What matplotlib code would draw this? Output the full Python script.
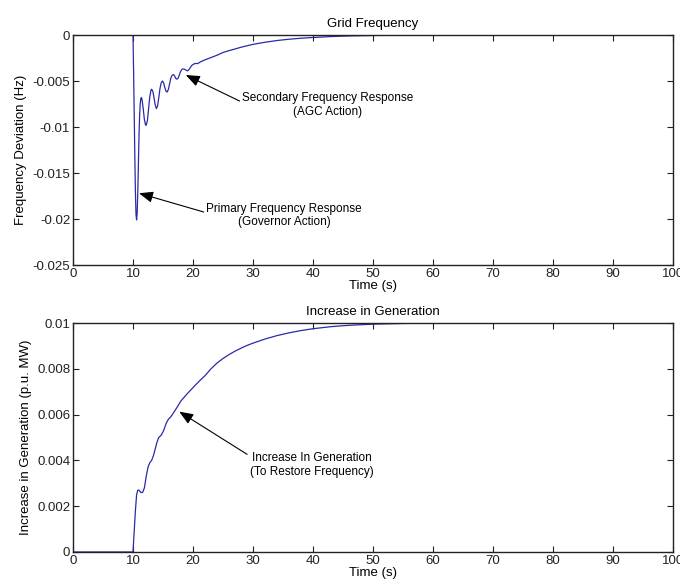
import matplotlib
matplotlib.use("Agg")
import matplotlib.pyplot as plt

plt.rcParams['font.family'] = ['Liberation Sans', 'DejaVu Sans']

# ---- data: grid frequency deviation (Hz) ----
t_freq = [0, 10.0, 10.1, 10.2, 10.3, 10.4, 10.5, 10.6, 10.7, 10.8, 10.9, 11.0, 11.1, 11.2,
          11.3, 11.4, 11.5, 11.7, 11.9, 12.1, 12.2, 12.4, 12.6, 12.8, 13.0, 13.1, 13.3,
          13.5, 13.7, 13.9, 14.1, 14.3, 14.5, 14.7, 14.9, 15.1, 15.3, 15.5, 15.7, 15.9,
          16.1, 16.3, 16.5, 16.7, 16.9, 17.1, 17.3, 17.5, 17.7, 17.9, 18.2, 18.5, 18.8,
          19.1, 19.4, 19.8, 20.3, 20.8, 21.3, 22.0, 23.0, 24.0, 25.0, 26.0, 27.0, 28.0,
          29.0, 30.0, 31.0, 32.0, 34.0, 36.0, 38.0, 40.0, 43.0, 46.0, 50.0, 55.0, 60.0,
          100.0]
freq_dev = [0, 0, -0.0040, -0.0085, -0.0130, -0.0170, -0.0195, -0.0201, -0.0193, -0.0170,
            -0.0140, -0.0110, -0.0088, -0.0075, -0.0069, -0.0068, -0.0070, -0.0080, -0.0092,
            -0.0098, -0.0098, -0.0093, -0.0080, -0.0067, -0.0060, -0.0059, -0.0061, -0.0068,
            -0.0076, -0.0080, -0.0077, -0.0068, -0.0058, -0.0052, -0.0050, -0.0052, -0.0057,
            -0.0061, -0.0062, -0.0059, -0.0053, -0.0047, -0.0044, -0.0043, -0.0044, -0.0047,
            -0.0048, -0.0047, -0.0044, -0.0040, -0.0037, -0.0037, -0.0038, -0.0039, -0.0037,
            -0.0033, -0.0031, -0.0031, -0.0029, -0.0027, -0.00245, -0.0022, -0.0019,
            -0.0017, -0.00152, -0.00133, -0.00117, -0.00102, -0.0009, -0.00079, -0.0006,
            -0.00046, -0.00035, -0.00027, -0.00017, -0.0001, -0.00005, -0.00002, 0, 0]

# ---- data: increase in generation (p.u. MW) ----
t_gen = [0, 10.0, 10.2, 10.4, 10.6, 10.8, 11.0, 11.3, 11.6, 11.9, 12.2, 12.5, 12.8, 13.1,
         13.4, 13.7, 14.0, 14.3, 14.7, 15.1, 15.5, 15.9, 16.3, 16.8, 17.3, 18.0, 19.0,
         20.0, 21.0, 22.0, 23.0, 24.0, 25.0, 26.0, 27.0, 28.0, 29.0, 30.0, 32.0, 34.0,
         36.0, 38.0, 40.0, 43.0, 46.0, 50.0, 55.0, 60.0, 100.0]
gen_inc = [0, 0, 0.0009, 0.0018, 0.0025, 0.0027, 0.0027, 0.0026, 0.0026, 0.0028, 0.0033,
           0.0037, 0.0039, 0.0040, 0.0042, 0.0045, 0.0048, 0.0050, 0.0051, 0.0053, 0.0056,
           0.0058, 0.0059, 0.0061, 0.0063, 0.0066, 0.0069, 0.00718, 0.00745, 0.0077,
           0.0080, 0.00825, 0.00845, 0.00862, 0.00877, 0.0089, 0.00902, 0.00912, 0.0093,
           0.00945, 0.00957, 0.00967, 0.00975, 0.00984, 0.0099, 0.00995, 0.00998, 0.01,
           0.01]

x_ticks = [0, 10, 20, 30, 40, 50, 60, 70, 80, 90, 100]
freq_ticks = [0, -0.005, -0.01, -0.015, -0.02, -0.025]
freq_ticklabels = ['0', '-0.005', '-0.01', '-0.015', '-0.02', '-0.025']
gen_ticks = [0, 0.002, 0.004, 0.006, 0.008, 0.01]
gen_ticklabels = ['0', '0.002', '0.004', '0.006', '0.008', '0.01']

LINE = '#2a2aa6'
FS = 9.5
FS_ANN = 8.5

fig = plt.figure(figsize=(6.8, 5.88), dpi=100)
ax1 = fig.add_axes([73/680, 1 - 265/588, 600/680, 230/588])
ax2 = fig.add_axes([73/680, 1 - 552/588, 600/680, 229/588])

arrow = dict(arrowstyle='-|>,head_length=1.0,head_width=0.4', color='black', lw=0.8,
             shrinkA=0, shrinkB=0)

for ax in (ax1, ax2):
    ax.set_xlim(0, 100)
    ax.set_xticks(x_ticks)
    ax.set_xticklabels([str(v) for v in x_ticks])
    ax.tick_params(direction='in', top=True, right=True, length=4, width=0.8,
                   labelsize=FS, pad=2, colors='#222222')
    for s in ax.spines.values():
        s.set_linewidth(1.0)
        s.set_color('#222222')
    ax.set_xlabel('Time (s)', fontsize=FS, labelpad=0)

ax1.plot(t_freq, freq_dev, color=LINE, lw=0.9)
ax1.set_ylim(-0.025, 0)
ax1.set_yticks(freq_ticks)
ax1.set_yticklabels(freq_ticklabels)
ax1.set_ylabel('Frequency Deviation (Hz)', fontsize=FS, labelpad=4)
ax1.set_title('Grid Frequency', fontsize=FS, pad=6)
ax1.annotate('Secondary Frequency Response\n(AGC Action)', xy=(18.8, -0.00435),
             xytext=(42.5, -0.0076), fontsize=FS_ANN, ha='center', va='center',
             arrowprops=dict(arrow, relpos=(0.0, 0.6)), linespacing=1.15)
ax1.annotate('Primary Frequency Response\n(Governor Action)', xy=(11.0, -0.0172),
             xytext=(35.2, -0.0196), fontsize=FS_ANN, ha='center', va='center',
             arrowprops=dict(arrow, relpos=(0.0, 0.6)), linespacing=1.15)

ax2.plot(t_gen, gen_inc, color=LINE, lw=0.9)
ax2.set_ylim(0, 0.01)
ax2.set_yticks(gen_ticks)
ax2.set_yticklabels(gen_ticklabels)
ax2.set_ylabel('Increase in Generation (p.u. MW)', fontsize=FS, labelpad=4)
ax2.set_title('Increase in Generation', fontsize=FS, pad=6)
ax2.annotate('Increase In Generation\n(To Restore Frequency)', xy=(17.7, 0.00613),
             xytext=(39.8, 0.0038), fontsize=FS_ANN, ha='center', va='center',
             arrowprops=dict(arrow, relpos=(0.0, 0.85)), linespacing=1.15)

fig.savefig('out.png', dpi=100, facecolor='white')
